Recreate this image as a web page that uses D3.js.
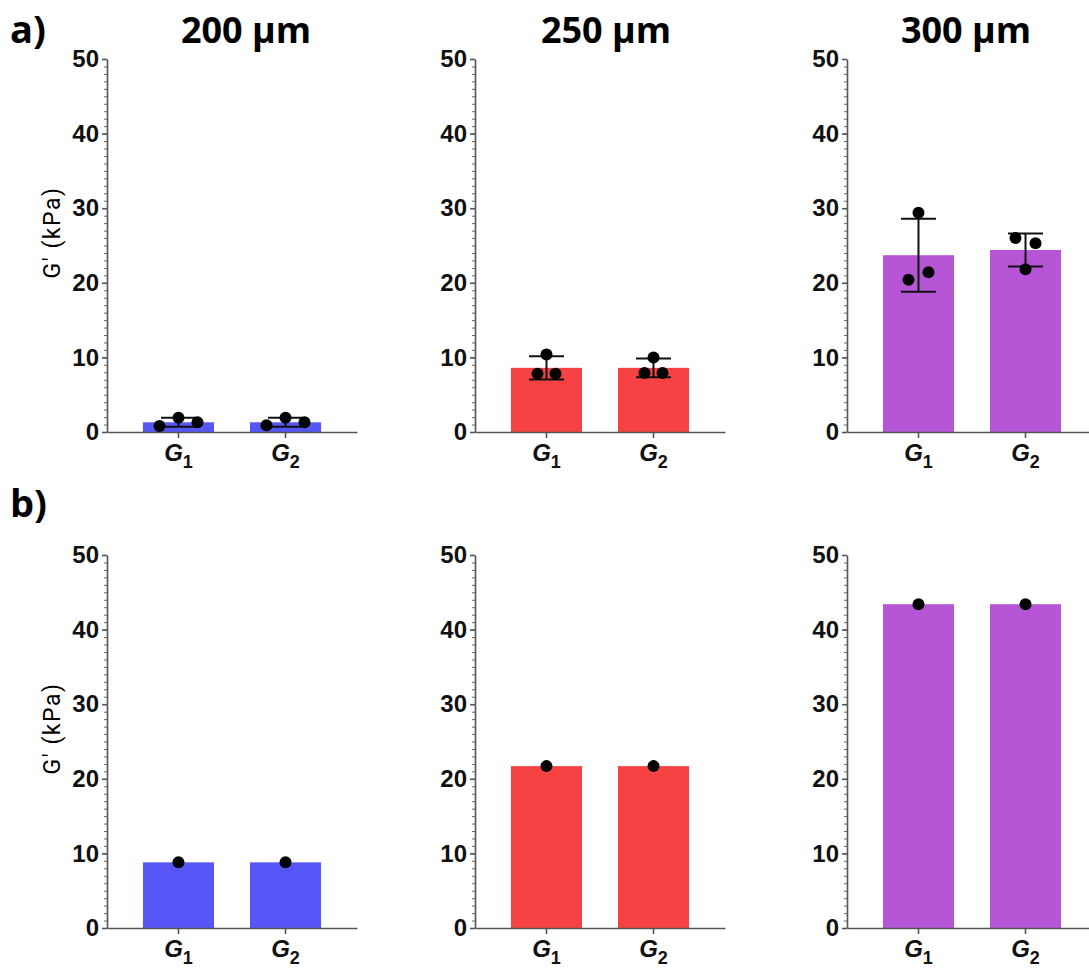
<!DOCTYPE html>
<html>
<head>
<meta charset="utf-8">
<script src="https://cdn.jsdelivr.net/npm/d3@7"></script>
<style>
  body { margin: 0; background: #fff; }
  svg { display: block; }
</style>
</head>
<body>
<svg id="chart"></svg>
<script>
(function() {

    // Data
    const groups = ['G1', 'G2'];
    const sizes = ['200 µm', '250 µm', '300 µm'];
    const yTicks = [0, 10, 20, 30, 40, 50];

    // row a) mean, sd and the three replicates (left, middle, right)
    const meansA = [[1.3, 1.3], [8.6, 8.6], [23.7, 24.4]];
    const sdA = [[0.6, 0.6], [1.55, 1.25], [4.9, 2.2]];
    const pointsA = [
        [[0.8, 1.9, 1.3], [0.9, 1.9, 1.3]],
        [[7.8, 10.4, 7.8], [7.9, 10.0, 7.9]],
        [[20.4, 29.4, 21.4], [26.0, 21.8, 25.3]]
    ];

    // row b) single values
    const meansB = [[8.8, 8.8], [21.7, 21.7], [43.4, 43.4]];
    const pointsB = [[[8.8], [8.8]], [[21.7], [21.7]], [[43.4], [43.4]]];

    const colors = ['#5656f6', '#f64242', '#b656d6'];

    // Layout
    const w = 1089;
    const h = 970;
    const axisX = [107, 475, 847];
    const titleX = [246, 606, 966];
    const axisLen = 250;
    const rows = [
        { id: 'a)', top: 59, bottom: 432, means: meansA, sd: sdA, points: pointsA, labelY: 43 },
        { id: 'b)', top: 555, bottom: 928, means: meansB, sd: null, points: pointsB, labelY: 517 }
    ];
    const jitter = [19, 9, 10];

    const svg = d3.select('#chart')
        .attr('width', w)
        .attr('height', h)
        .style('font-family', '"Liberation Sans", Arial, sans-serif');

    // Column titles
    svg.selectAll('.title')
        .data(sizes)
        .enter()
        .append('text')
        .attr('class', 'title')
        .attr('x', (d, i) => titleX[i])
        .attr('y', 43)
        .attr('text-anchor', 'middle')
        .style('font-family', '"Open Sans", sans-serif')
        .style('font-weight', 700)
        .style('font-size', '36px')
        .text(d => d);

    rows.forEach((row, r) => {

        // Panel letter
        svg.append('text')
            .attr('x', 10)
            .attr('y', row.labelY)
            .style('font-family', '"Open Sans", sans-serif')
            .style('font-weight', 700)
            .style('font-size', '38px')
            .text(row.id);

        const scaleY = d3.scaleLinear().domain([0, 50]).range([row.bottom, row.top]);

        // Y label
        const midY = (row.top + row.bottom) / 2 - 13;
        svg.append('text')
            .attr('transform', `translate(60, ${midY}) rotate(-90)`)
            .attr('text-anchor', 'middle')
            .style('font-family', 'Roboto, sans-serif')
            .style('font-size', '23px')
            .style('letter-spacing', '1.5px')
            .text("G' (kPa)");

        sizes.forEach((s, p) => {

            const x0 = axisX[p];
            const scaleX = d3.scaleBand()
                .domain(groups)
                .range([x0, x0 + axisLen])
                .paddingInner(0.336)
                .paddingOuter(0.336);

            const g = svg.append('g');

            // Bars
            g.selectAll('rect')
                .data(groups)
                .enter()
                .append('rect')
                .attr('x', d => scaleX(d))
                .attr('width', scaleX.bandwidth())
                .attr('y', (d, i) => scaleY(row.means[p][i]))
                .attr('height', (d, i) => scaleY(0) - scaleY(row.means[p][i]))
                .attr('fill', colors[p]);

            // Minor ticks
            g.append('g')
                .attr('transform', `translate(${x0}, 0)`)
                .call(d3.axisLeft(scaleY).tickValues(d3.range(0, 51, 1)).tickSize(3).tickFormat(''))
                .call(a => a.select('.domain').remove())
                .call(a => a.selectAll('line').attr('stroke', '#666').attr('stroke-width', 1));

            // Y axis
            g.append('g')
                .attr('transform', `translate(${x0}, 0)`)
                .call(d3.axisLeft(scaleY).tickValues(yTicks).tickSize(5).tickSizeOuter(0).tickPadding(3))
                .call(a => a.select('.domain').attr('stroke', '#555').attr('stroke-width', 1.6))
                .call(a => a.selectAll('line').attr('stroke', '#555').attr('stroke-width', 1.6))
                .call(a => a.selectAll('text')
                    .style('font-size', '24px')
                    .style('font-weight', 700)
                    .attr('fill', '#111'));

            // X axis
            const xAxis = g.append('g')
                .attr('transform', `translate(0, ${row.bottom})`)
                .call(d3.axisBottom(scaleX).tickSize(6).tickSizeOuter(0).tickFormat(''));
            xAxis.select('.domain').attr('stroke', '#555').attr('stroke-width', 1.6);
            xAxis.selectAll('line').attr('stroke', '#555').attr('stroke-width', 1.6);

            // X labels
            groups.forEach(grp => {
                const t = g.append('text')
                    .attr('x', scaleX(grp) + scaleX.bandwidth() / 2)
                    .attr('y', row.bottom + 29)
                    .attr('text-anchor', 'middle')
                    .style('font-size', '24px')
                    .style('font-weight', 700)
                    .attr('fill', '#111');
                t.append('tspan').style('font-style', 'italic').text(grp[0]);
                t.append('tspan').attr('dy', 7).style('font-size', '18px').text(grp.slice(1));
            });

            // Error bars
            if (row.sd) {
                groups.forEach((grp, i) => {
                    const cx = scaleX(grp) + scaleX.bandwidth() / 2;
                    const lo = scaleY(row.means[p][i] - row.sd[p][i]);
                    const hi = scaleY(row.means[p][i] + row.sd[p][i]);
                    const eb = g.append('g').attr('stroke', '#111').attr('stroke-width', 2);
                    eb.append('line').attr('x1', cx).attr('x2', cx).attr('y1', lo).attr('y2', hi);
                    eb.append('line').attr('x1', cx - 17.5).attr('x2', cx + 17.5).attr('y1', lo).attr('y2', lo);
                    eb.append('line').attr('x1', cx - 17.5).attr('x2', cx + 17.5).attr('y1', hi).attr('y2', hi);
                });
            }

            // Points
            groups.forEach((grp, i) => {
                const cx = scaleX(grp) + scaleX.bandwidth() / 2;
                const pts = row.points[p][i];
                g.selectAll(null)
                    .data(pts)
                    .enter()
                    .append('circle')
                    .attr('cx', (d, k) => pts.length === 1 ? cx : cx + (k - 1) * jitter[p])
                    .attr('cy', d => scaleY(d))
                    .attr('r', 6)
                    .attr('fill', '#000');
            });
        });
    });

})();
</script>
</body>
</html>
